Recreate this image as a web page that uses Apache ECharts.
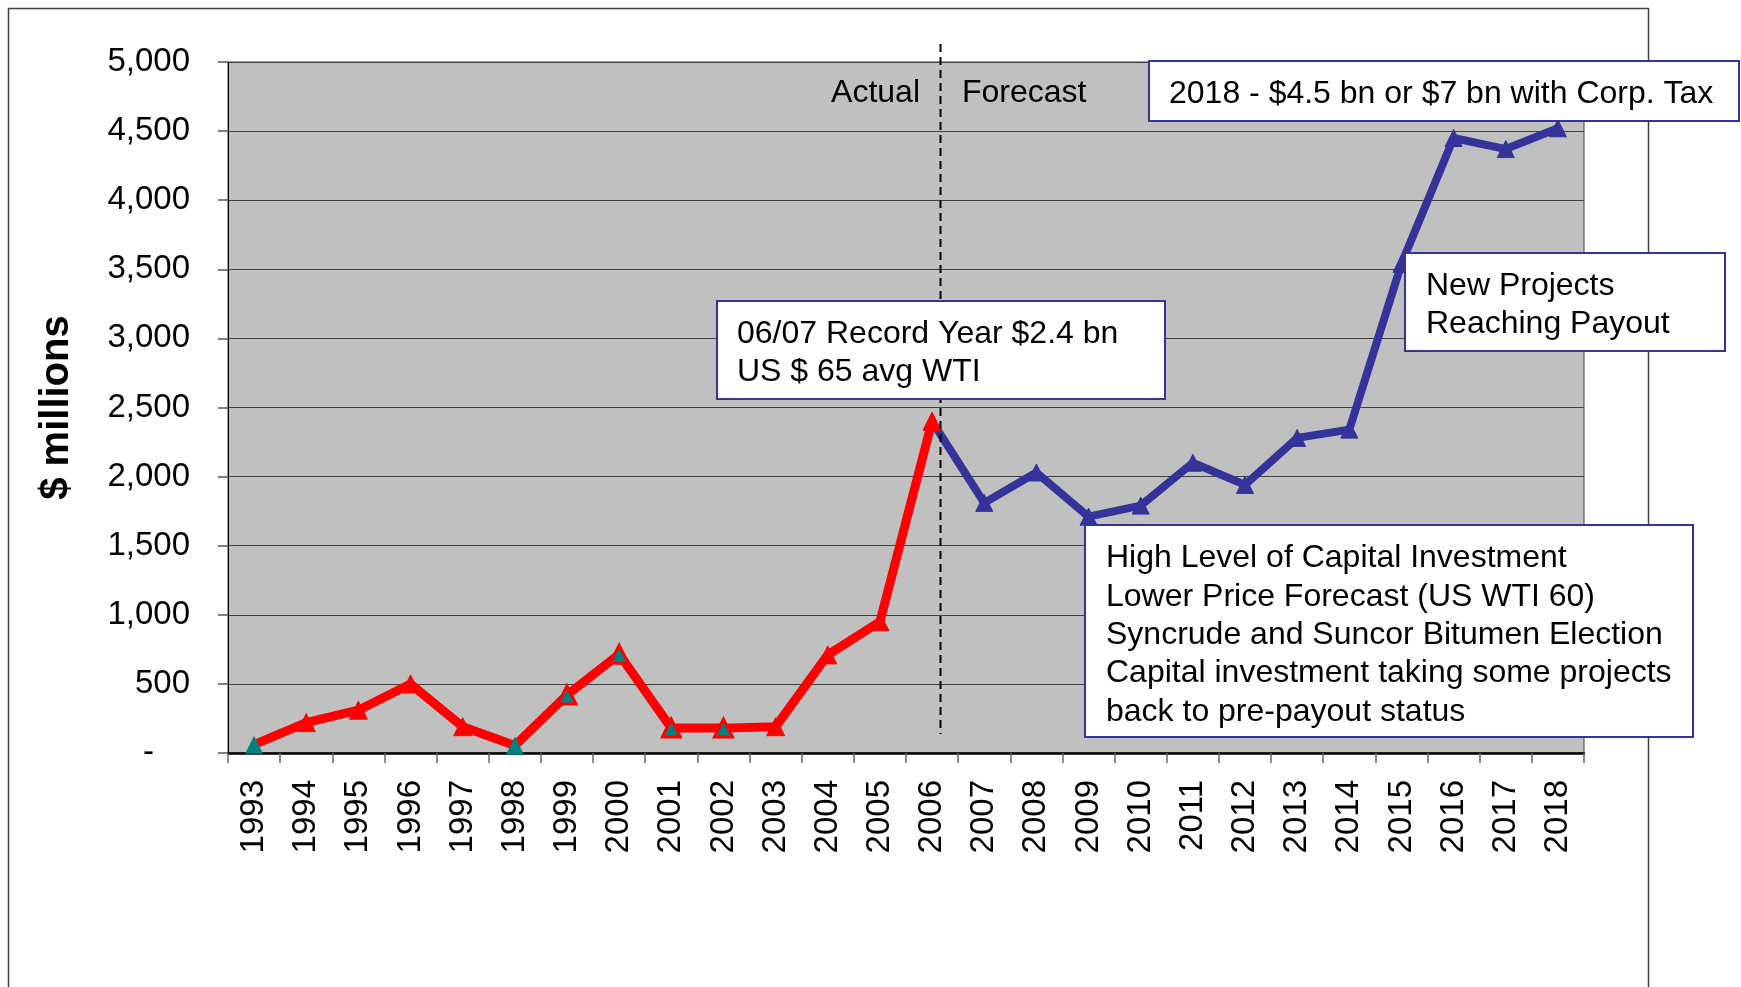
<!DOCTYPE html>
<html>
<head>
<meta charset="utf-8">
<script src="https://cdn.jsdelivr.net/npm/echarts@6/dist/echarts.min.js"></script>
<style>
html,body{margin:0;padding:0;background:#fff;}
#chart{width:1741px;height:987px;}
</style>
</head>
<body>
<div id="chart"></div>
<script>
// ---- data ----
const years = ['1993','1994','1995','1996','1997','1998','1999','2000','2001','2002','2003','2004','2005','2006','2007','2008','2009','2010','2011','2012','2013','2014','2015','2016','2017','2018'];
const actualValues = [60, 220, 310, 500, 190, 55, 420, 715, 180, 180, 190, 710, 950, 2400];
const forecastValues = [2400, 1810, 2030, 1710, 1790, 2100, 1940, 2280, 2340, 3540, 4450, 4370, 4520];
const yTicks = [0, 500, 1000, 1500, 2000, 2500, 3000, 3500, 4000, 4500, 5000];
const tealSolidYears = ['1993', '1998'];
const tealInnerYears = ['1999', '2000', '2001', '2002'];
const splitYear = '2006';

const FONT = '"Liberation Sans", Arial, sans-serif';
const RED = '#FF0000', BLUE = '#333399', TEAL = '#008080';

// build series data from the arrays
const actualData = years.map((y, i) => {
  if (i >= actualValues.length) return '-';
  const v = actualValues[i];
  if (tealSolidYears.includes(y)) return { value: v, itemStyle: { color: TEAL, borderColor: TEAL, borderWidth: 0 } };
  if (tealInnerYears.includes(y)) return { value: v, itemStyle: { color: TEAL, borderColor: RED, borderWidth: 3 } };
  return v;
});
const startF = years.length - forecastValues.length;
const forecastData = years.map((y, i) => i < startF ? '-' : forecastValues[i - startF]);

const chart = echarts.init(document.getElementById('chart'), null, { renderer: 'canvas' });

chart.setOption({
  animation: false,
  backgroundColor: '#ffffff',
  grid: {
    left: 228, right: 157, top: 62, bottom: 234,
    show: true, backgroundColor: '#C0C0C0', borderColor: '#404040', borderWidth: 1
  },
  xAxis: {
    type: 'category',
    data: years,
    boundaryGap: true,
    axisLine: { show: true, lineStyle: { color: '#000', width: 2.5 } },
    axisTick: { show: true, length: 10, lineStyle: { color: '#666', width: 1.5 } },
    axisLabel: { rotate: 90, margin: 27, fontSize: 33, fontFamily: FONT, color: '#000', interval: 0 },
    splitLine: { show: false }
  },
  yAxis: {
    type: 'value',
    min: yTicks[0], max: yTicks[yTicks.length - 1], interval: 500,
    name: '$ millions',
    nameLocation: 'middle',
    nameGap: 151,
    nameRotate: 90,
    nameTextStyle: { fontSize: 40, fontWeight: 'bold', fontFamily: FONT, color: '#000' },
    axisLine: { show: true, lineStyle: { color: '#000', width: 1 } },
    axisTick: { show: true, length: 10, lineStyle: { color: '#555', width: 1.5 } },
    axisLabel: {
      margin: 38, fontSize: 33, fontFamily: FONT, color: '#000',
      formatter: v => v === 0 ? '{z|-}' : v.toLocaleString('en-US'),
      rich: { z: { fontSize: 33, fontFamily: FONT, color: '#000', padding: [0, 36, 0, 0] } }
    },
    splitLine: { show: true, lineStyle: { color: '#404040', width: 1.2 } }
  },
  series: [
    {
      name: 'Forecast', type: 'line', data: forecastData, z: 3,
      symbol: 'triangle', symbolSize: 17, showAllSymbol: true,
      lineStyle: { color: BLUE, width: 8 },
      itemStyle: { color: BLUE, borderColor: BLUE }
    },
    {
      name: 'Actual', type: 'line', data: actualData, z: 4,
      symbol: 'triangle', symbolSize: 18, showAllSymbol: true,
      lineStyle: { color: RED, width: 9 },
      itemStyle: { color: RED, borderColor: RED }
    }
  ]
});

// annotations
const cx = chart.convertToPixel({ xAxisIndex: 0 }, splitYear);
const bw = chart.convertToPixel({ xAxisIndex: 0 }, years[years.indexOf(splitYear) + 1]) - cx;
const dashX = Math.round(cx + 0.15 * bw) + 0.5;

function box(x, y, w, h) {
  return { type: 'rect', z: 100, shape: { x: x, y: y, width: w, height: h },
    style: { fill: '#fff', stroke: BLUE, lineWidth: 2 } };
}
function txt(x, y, text, lh, va) {
  return { type: 'text', z: 101, x: x, y: y,
    style: { text: text, font: '32px ' + FONT, fill: '#000', lineHeight: lh || 38,
      textAlign: 'left', textVerticalAlign: va || 'top' } };
}

chart.setOption({
  graphic: [
    { type: 'rect', z: 0, silent: true, shape: { x: 8.5, y: 8.5, width: 1640, height: 1050 },
      style: { fill: null, stroke: '#404040', lineWidth: 1.5 } },
    { type: 'line', z: 50, shape: { x1: dashX, y1: 44, x2: dashX, y2: 734 },
      style: { stroke: '#000', lineWidth: 2, lineDash: [8, 5] } },
    { type: 'text', z: 50, x: 920, y: 93,
      style: { text: 'Actual', font: '32px ' + FONT, fill: '#000', textAlign: 'right', textVerticalAlign: 'middle' } },
    { type: 'text', z: 50, x: 962, y: 93,
      style: { text: 'Forecast', font: '32px ' + FONT, fill: '#000', textAlign: 'left', textVerticalAlign: 'middle' } },
    box(1149, 61, 590, 60),
    txt(1169, 94, '2018 - $4.5 bn or $7 bn with Corp. Tax', 38, 'middle'),
    box(717, 301, 448, 98),
    txt(737, 315, '06/07 Record Year $2.4 bn\nUS $ 65 avg WTI', 38),
    box(1405, 253, 320, 98),
    txt(1426, 267.5, 'New Projects\nReaching Payout', 37.7),
    box(1085, 525, 608, 212),
    txt(1106, 539.5, 'High Level of Capital Investment\nLower Price Forecast (US WTI 60)\nSyncrude and Suncor Bitumen Election\nCapital investment taking some projects\nback to pre-payout status', 38.3)
  ]
});
</script>
</body>
</html>
